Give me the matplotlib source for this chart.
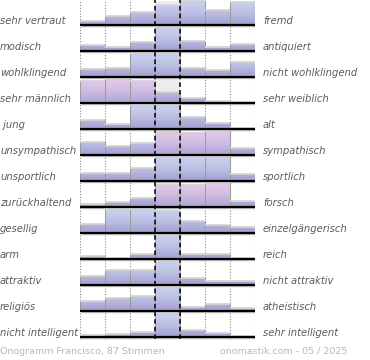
import numpy as np
import matplotlib
matplotlib.use("Agg")
import matplotlib.pyplot as plt
from matplotlib.patches import Rectangle
from matplotlib.colors import to_rgb
import matplotlib.transforms as mtransforms

left_labels = ["sehr vertraut", "modisch", "wohlklingend", "sehr männlich", " jung",
               "unsympathisch", "unsportlich", "zurückhaltend", "gesellig", "arm",
               "attraktiv", "religiös", "nicht intelligent"]
right_labels = ["fremd", "antiquiert", "nicht wohlklingend", "sehr weiblich", "alt",
                "sympathisch", "sportlich", "forsch", "einzelgängerisch", "reich",
                "nicht attraktiv", "atheistisch", "sehr intelligent"]

# bar heights per row (7 steps, 24 = full)
r01 = [4, 9, 13, 20, 24, 15, 23]
r02 = [6, 4, 9, 24, 10, 4, 7]
r03 = [8, 9, 24, 24, 9, 7, 15]
r04 = [22, 24, 22, 11, 5, 2, 1]
r05 = [9, 5, 24, 24, 12, 6, 1]
r06 = [13, 9, 12, 23, 22, 24, 7]
r07 = [8, 8, 13, 24, 24, 24, 7]
r08 = [3, 5, 9, 22, 22, 24, 6]
r09 = [9, 24, 24, 22, 12, 8, 6]
r10 = [3, 1, 5, 24, 5, 5, 1]
r11 = [9, 15, 15, 24, 7, 4, 4]
r12 = [10, 13, 15, 24, 4, 7, 3]
r13 = [2, 3, 5, 24, 7, 4, 1]
rows = [r01, r02, r03, r04, r05, r06, r07, r08, r09, r10, r11, r12, r13]

footer_left = "Onogramm Francisco, 87 Stimmen"
footer_right = "onomastik.com - 05 / 2025"

# pink highlighted cells (row, bin)
pink = {(3, 0), (3, 1), (3, 2), (5, 3), (5, 4), (5, 5), (7, 3), (7, 4), (7, 5)}

W, H = 370, 360
fig = plt.figure(figsize=(W / 100, H / 100), dpi=100)
ax = fig.add_axes([80 / W, 20 / H, 175 / W, 340 / H])

n = len(rows)
ROW_H = 26
FULL = 24


def grad(top, bottom):
    t = np.linspace(0, 1, 64).reshape(-1, 1, 1) ** 1.6
    a = np.array(to_rgb(top)).reshape(1, 1, 3)
    b = np.array(to_rgb(bottom)).reshape(1, 1, 3)
    return a * (1 - t) + b * t


blue = grad("#c8cfed", "#a29ccf")
rose = grad("#e0c8e8", "#aaa2d3")

for r, vals in enumerate(rows):
    base = 3 + (n - 1 - r) * ROW_H
    ax.add_patch(Rectangle((3, base), 1, FULL, facecolor="#ececec", edgecolor="none", zorder=0))
    for i, v in enumerate(vals):
        g = rose if (r, i) in pink else blue
        im = ax.imshow(g, extent=[i, i + 1, base, base + FULL], aspect="auto",
                       interpolation="bilinear", zorder=2)
        clip = Rectangle((i, base), 1, v, transform=ax.transData)
        im.set_clip_path(clip)
    ax.bar(np.arange(7), vals, width=1, bottom=base, align="edge", fill=False,
           edgecolor="#9a9a9a", linewidth=0.7, zorder=3)
    ax.hlines([base + v for v in vals], np.arange(7), np.arange(7) + 1,
              color="#d6d6d6", linewidth=1.3, zorder=3)
    ax.hlines(base - 1.3, 0.05, 7.1, color="#c0c0c0", linewidth=1, zorder=3)
    ax.hlines(base, 0, 7.05, color="black", linewidth=1.6, zorder=4)

for x in [0, 1, 2, 5, 6, 7]:
    ax.axvline(x, ymin=1 / 340, color="#8a8a8a", linestyle=(0, (1, 1.5)), linewidth=0.8, zorder=1)
for x in [3, 4]:
    ax.axvline(x, ymin=1 / 340, color="black", linestyle=(0, (3, 2)), linewidth=1.1, zorder=5)

ax.set_xlim(0, 7)
ax.set_ylim(0, 340)
ax.axis("off")

tr = mtransforms.blended_transform_factory(fig.transFigure, ax.transData)
for r in range(n):
    base = 3 + (n - 1 - r) * ROW_H
    fig.text(0 / W, base + 1, left_labels[r], transform=tr, fontsize=7.2, style="italic",
             color="#5c5c5c", va="baseline", ha="left")
    fig.text(263 / W, base + 1, right_labels[r], transform=tr, fontsize=7.2, style="italic",
             color="#5c5c5c", va="baseline", ha="left")

fig.text(0 / W, 1 - 354 / H, footer_left, fontsize=6.8, color="#b8b8b8", va="baseline", ha="left")
fig.text(347 / W, 1 - 354 / H, footer_right, fontsize=6.8, color="#b8b8b8", va="baseline", ha="right")

fig.savefig("out.png", dpi=100)
